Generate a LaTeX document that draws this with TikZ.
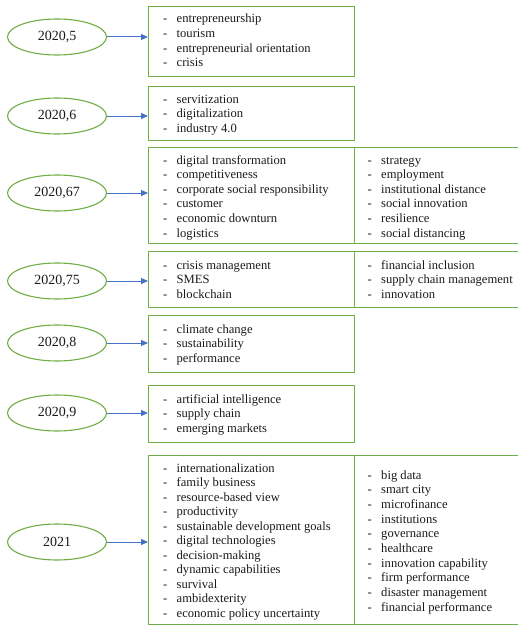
\documentclass[tikz,border=0pt]{standalone}
\usepackage{fontspec}
\setmainfont{Liberation Serif}
\usetikzlibrary{shapes.geometric,arrows.meta}
\definecolor{bordergreen}{HTML}{70AD47}
\definecolor{arrowblue}{HTML}{4472C4}
\definecolor{txt}{HTML}{1A1A1A}
\tikzset{
  year/.style={draw=bordergreen, line width=1.1pt, ellipse, minimum width=99pt, minimum height=36pt, inner sep=0pt, font=\fontsize{14}{16}\selectfont, text=txt},
  kwbox/.style={draw=bordergreen, line width=1.1pt, rectangle, anchor=north west, inner sep=0pt},
  kw/.style={anchor=base west, inner sep=0pt, font=\fontsize{12.6}{14.6}\selectfont, text=txt},
  link/.style={draw=arrowblue, line width=1pt, -{Triangle[width=6pt,length=7pt]}}
}
\newcommand\kwlist[5]{\foreach \t [count=\i] in {#5} \node[kw, name=#1-\i] at (#2, {#3+(\i-1)*#4}) {\makebox[13.5pt][l]{-}\t};}
\newcommand\kwrect[5]{\node[kwbox, minimum width=#4pt, minimum height=#5pt] (#1) at (#2,#3) {};}
\begin{document}
\begin{tikzpicture}[x=1pt,y=-1pt]
\useasboundingbox (0,0) rectangle (518,626);
\clip (0,0) rectangle (518,626);
% ellipses
\node[year] (y1) at (57,37) {2020,5};
\node[year] (y2) at (57,116) {2020,6};
\node[year] (y3) at (57,193) {2020,67};
\node[year] (y4) at (57,281) {2020,75};
\node[year] (y5) at (57,343) {2020,8};
\node[year] (y6) at (57,413) {2020,9};
\node[year] (y7) at (57,542) {2021};
% boxes
\kwrect{b1}{148}{6}{206}{70}
\kwrect{b2}{148}{86}{206}{54}
\kwrect{b3}{148}{147}{206}{96}
\kwrect{b3r}{354}{147}{190}{96}
\kwrect{b4}{148}{251}{206}{56}
\kwrect{b4r}{354}{251}{190}{56}
\kwrect{b5}{148}{315}{206}{57}
\kwrect{b6}{148}{385}{206}{57}
\kwrect{b7}{148}{455}{206}{169}
\kwrect{b7r}{354}{455}{190}{169}
% arrows
\draw[link] (y1.east) -- (y1.east -| b1.west);
\draw[link] (y2.east) -- (y2.east -| b2.west);
\draw[link] (y3.east) -- (y3.east -| b3.west);
\draw[link] (y4.east) -- (y4.east -| b4.west);
\draw[link] (y5.east) -- (y5.east -| b5.west);
\draw[link] (y6.east) -- (y6.east -| b6.west);
\draw[link] (y7.east) -- (y7.east -| b7.west);
% keyword lists
\kwlist{l1}{163}{23}{14.6}{entrepreneurship, tourism, entrepreneurial orientation, crisis}
\kwlist{l2}{163}{103}{14.6}{servitization, digitalization, industry 4.0}
\kwlist{l3}{163}{164}{14.6}{digital transformation, competitiveness, corporate social responsibility, customer, economic downturn, logistics}
\kwlist{r3}{367.5}{164}{14.6}{strategy, employment, institutional distance, social innovation, resilience, social distancing}
\kwlist{l4}{163}{269}{14.6}{crisis management, SMES, blockchain}
\kwlist{r4}{367.5}{269}{14.6}{financial inclusion, supply chain management, innovation}
\kwlist{l5}{163}{333}{14.6}{climate change, sustainability, performance}
\kwlist{l6}{163}{403}{14.6}{artificial intelligence, supply chain, emerging markets}
\kwlist{l7}{163}{472}{14.5}{internationalization, family business, resource-based view, productivity, sustainable development goals, digital technologies, decision-making, dynamic capabilities, survival, ambidexterity, economic policy uncertainty}
\kwlist{r7}{367.5}{479}{14.67}{big data, smart city, microfinance, institutions, governance, healthcare, innovation capability, firm performance, disaster management, financial performance}
\end{tikzpicture}
\end{document}
